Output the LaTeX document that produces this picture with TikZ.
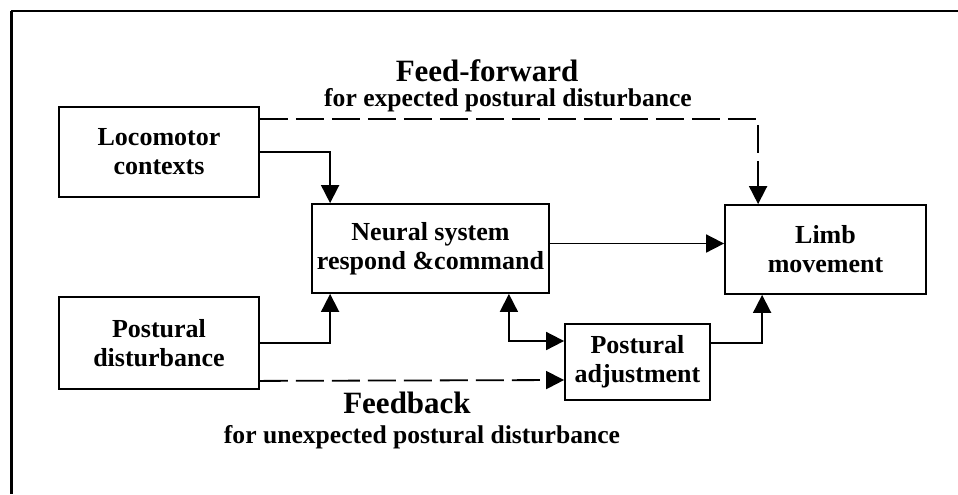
\documentclass[tikz,border=0pt]{standalone}
\usepackage{fontspec}
\setmainfont{Liberation Serif}
\usetikzlibrary{arrows.meta}

\tikzset{
  block/.style={draw, line width=0.9pt, align=center, inner sep=0pt,
    font=\bfseries\fontsize{13}{14.5}\selectfont},
  arr/.style={line width=0.9pt, -{Triangle[length=9pt,width=9pt]}},
  darr/.style={arr, dash pattern=on 14pt off 4pt},
  dline/.style={line width=0.9pt, dash pattern=on 14pt off 4pt}
}

\begin{document}
\begin{tikzpicture}[x=0.5pt, y=-0.5pt]
\useasboundingbox (0,0) rectangle (958,494);
\draw [line width=1pt] (11,11) -- (958,11);
\draw [line width=1.5pt] (11,11) -- (11,494);

\node [block, minimum width=100pt, minimum height=45pt] (loco) at (159,152) {Locomotor\\contexts};
\node [block, minimum width=100pt, minimum height=46pt] (dist) at (159,343) {Postural\\disturbance};
\node [block, minimum width=118.5pt, minimum height=44.5pt] (neural) at (430.5,248.5) {Neural system\\respond \&command};
\node [block, minimum width=100.5pt, minimum height=44.5pt] (limb) at (825.5,249.5) {Limb\\movement};
\node [block, minimum width=72.5pt, minimum height=38pt] (adj) at (637.5,362) {Postural\\adjustment};

\node [font=\bfseries\fontsize{15.5}{17}\selectfont] (ffwd) at (487,71) {Feed-forward};
\node [font=\bfseries\fontsize{12.8}{14}\selectfont] (ffwdsub) at (508,100) {for expected postural disturbance};
\node [font=\bfseries\fontsize{15.5}{17}\selectfont] (fback) at (407,403) {Feedback};
\node [font=\bfseries\fontsize{12.8}{14}\selectfont] (fbacksub) at (422,437) {for unexpected postural disturbance};

\draw [arr] (loco.east) -| ([xshift=9.5pt]neural.north west);
\draw [arr] (dist.east) -| ([xshift=9.5pt]neural.south west);
\draw [darr] ([yshift=-6.5pt]loco.north east) -| ([xshift=17pt]limb.north west);
\draw [arr] ([yshift=2.5pt]neural.east) -- ([yshift=3pt]limb.west);
\draw [arr, {Triangle[length=9pt,width=9pt]}-{Triangle[length=9pt,width=9pt]}] ([xshift=-20.5pt]neural.south east) |- ([yshift=10.5pt]adj.west);
\draw [darr] ([yshift=4.5pt]dist.south east) -- ([yshift=-9pt]adj.west);
\draw [arr] ([yshift=9.5pt]adj.east) -| ([xshift=19pt]limb.south west);
\end{tikzpicture}
\end{document}
